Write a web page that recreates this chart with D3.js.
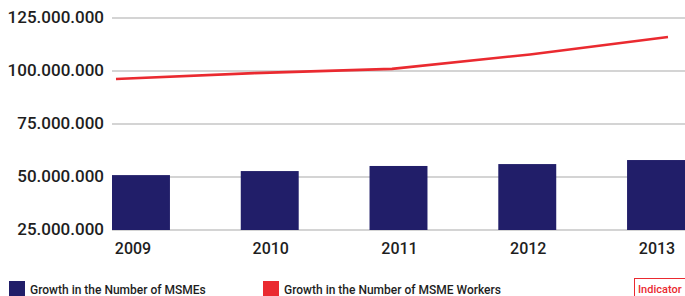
<!DOCTYPE html>
<html lang="en">
	<head>
		<meta charset="utf-8">
		<title>MSME growth</title>
		<script type="text/javascript" src="https://d3js.org/d3.v7.min.js"></script>
		<style type="text/css">
            body{margin:0;font-family:Roboto, sans-serif;background:#fff;}
            #chart1{width:685px;height:296px;overflow:hidden;}
            .ylab{font-size:17px;font-weight:500;fill:#1e1e1e;}
            .xlab{font-size:16px;font-weight:500;fill:#1e1e1e;}
            .leg{font-size:12px;font-weight:500;fill:#1e1e1e;}
		</style>
	</head>
	<body>
    <div id="chart1"></div>
		<script type="text/javascript">
            // data
            var years = ["2009","2010","2011","2012","2013"]
            var msmes = [50900000, 52800000, 55200000, 56100000, 58000000]
            var workers = [96200000, 99000000, 101000000, 107800000, 116000000]
            var yTicks = [25000000, 50000000, 75000000, 100000000, 125000000]
            var legendNames = ["Growth in the Number of MSMEs", "Growth in the Number of MSME Workers"]

            var w = 685
            var h = 296
            var navy = "#211e69"
            var red = "#ea2a30"

            var svg = d3.select("#chart1")
                        .append("svg")
                        .attr("width", w)
                        .attr("height", h)

            var xScale = d3.scaleBand().domain(years).range([112, 685]).paddingInner(0.55).paddingOuter(0)
            var xLine = d3.scalePoint().domain(years).range([116, 668])
            var yScale = d3.scaleLinear().domain([25000000, 125000000]).range([230, 18])

            // dotted thousands like 125.000.000
            var fmt = function(v){ return d3.format(",")(v).replace(/,/g, ".") }

            //grid lines
            svg.selectAll(".grid")
                .data(yTicks)
                .enter()
                .append("line")
                .attr("class", "grid")
                .attr("x1", 112)
                .attr("x2", w)
                .attr("y1", function(d){ return yScale(d) })
                .attr("y2", function(d){ return yScale(d) })
                .attr("stroke", "#aaaaaa")
                .attr("stroke-width", 1.2)

            svg.selectAll(".ylab")
                .data(yTicks)
                .enter()
                .append("text")
                .attr("class", "ylab")
                .attr("x", 104)
                .attr("y", function(d){ return yScale(d) })
                .attr("dy", "0.32em")
                .attr("text-anchor", "end")
                .text(fmt)

            //bars
            svg.selectAll(".bar")
                .data(msmes)
                .enter()
                .append("rect")
                .attr("class", "bar")
                .attr("x", function(d, i){ return xScale(years[i]) })
                .attr("width", xScale.bandwidth())
                .attr("y", function(d){ return yScale(d) })
                .attr("height", function(d){ return yScale(25000000) - yScale(d) })
                .attr("fill", navy)

            svg.selectAll(".xlab")
                .data(years)
                .enter()
                .append("text")
                .attr("class", "xlab")
                .attr("x", function(d, i){ return xScale(d) + xScale.bandwidth()/2 + (i == 0 ? -8 : 1) })
                .attr("y", 254)
                .attr("text-anchor", "middle")
                .text(function(d){ return d })

            //line
            var line = d3.line()
                .x(function(d, i){ return xLine(years[i]) })
                .y(function(d){ return yScale(d) })
            svg.append("path")
                .datum(workers)
                .attr("d", line)
                .attr("fill", "none")
                .attr("stroke", red)
                .attr("stroke-width", 2.6)

            //legend
            var legX = [9, 263]
            var leg = svg.selectAll(".legitem")
                .data(legendNames)
                .enter()
                .append("g")
                .attr("class", "legitem")
                .attr("transform", function(d, i){ return "translate(" + legX[i] + ",281)" })
            leg.append("rect")
                .attr("width", 16)
                .attr("height", 16)
                .attr("fill", function(d, i){ return i == 0 ? navy : red })
            leg.append("text")
                .attr("class", "leg")
                .attr("x", 21)
                .attr("y", 13)
                .text(function(d){ return d })

            svg.append("rect")
                .attr("x", 634.5)
                .attr("y", 278.5)
                .attr("width", 60)
                .attr("height", 20)
                .attr("fill", "#fff")
                .attr("stroke", red)
                .attr("stroke-width", 1)
            svg.append("text")
                .attr("x", 638)
                .attr("y", 293)
                .attr("font-size", "11px")
                .attr("font-weight", 500)
                .attr("fill", red)
                .text("Indicator")
		</script>
	</body>
</html>
